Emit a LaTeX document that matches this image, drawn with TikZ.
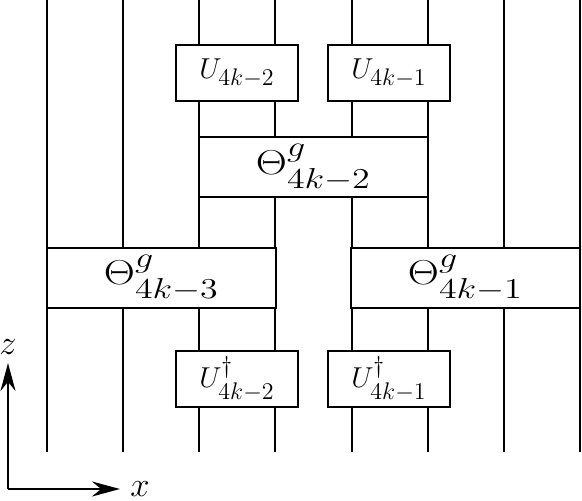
\documentclass[tikz,border=0pt]{standalone}
\usepackage{amsmath, amssymb}
\usepackage{graphicx}
\usetikzlibrary{arrows.meta, positioning}
% larger scripts, as in the drawing
\DeclareMathSizes{14.4}{14.4}{11.5}{9}
\DeclareMathSizes{17.28}{17.28}{13.8}{10}

\newcommand{\thetalabel}[1]{\scalebox{1.25}[1]{$\Theta^g_{#1}$}}

\tikzset{
  wire/.style={line width=1pt},
  gatebox/.style={draw, line width=1pt, fill=white, inner sep=0pt,
    minimum width=61pt, minimum height=28pt, font=\Large},
  thetabox/.style={draw, line width=1pt, fill=white, inner sep=0pt,
    minimum width=114.5pt, minimum height=30pt, font=\LARGE},
  axislabel/.style={font=\LARGE, inner sep=0pt}
}

\begin{document}
\begin{tikzpicture}[x=0.5pt, y=-0.5pt]
  \useasboundingbox (0,0) rectangle (582,501);
  % wires
  \foreach \i in {1,...,8}{
    \coordinate (top\i) at ({47+76.14*(\i-1)},0);
    \coordinate (bot\i) at ({47+76.14*(\i-1)},452);
    \draw[wire] (top\i) -- (bot\i);
  }
  % top layer
  \node[gatebox] (u2) at (237,73) {$U_{4k-2}$};
  \node[gatebox] (u1) at (389,73) {$U_{4k-1}$};
  % theta layers
  \node[thetabox] (th2) at (313.5,167.5) {\thetalabel{4k-2}};
  \node[thetabox] (th3) at (161.5,278) {\thetalabel{4k-3}};
  \node[thetabox] (th1) at (465.5,278) {\thetalabel{4k-1}};
  % bottom layer
  \node[gatebox] (ud2) at (237,379) {$U^\dagger_{4k-2}$};
  \node[gatebox] (ud1) at (389,379) {$U^\dagger_{4k-1}$};
  % axes
  \coordinate (orig) at (8,489);
  \coordinate (ztip) at (8,363);
  \coordinate (xtip) at (120,489);
  \draw[wire, -{Stealth[length=14pt, width=7.5pt]}] (orig) -- (ztip);
  \draw[wire, -{Stealth[length=14pt, width=7.5pt]}] (orig) -- (xtip);
  \node[axislabel, above=4pt of ztip] (zlab) {$z$};
  \node[axislabel, right=5pt of xtip] (xlab) {$x$};
\end{tikzpicture}
\end{document}
